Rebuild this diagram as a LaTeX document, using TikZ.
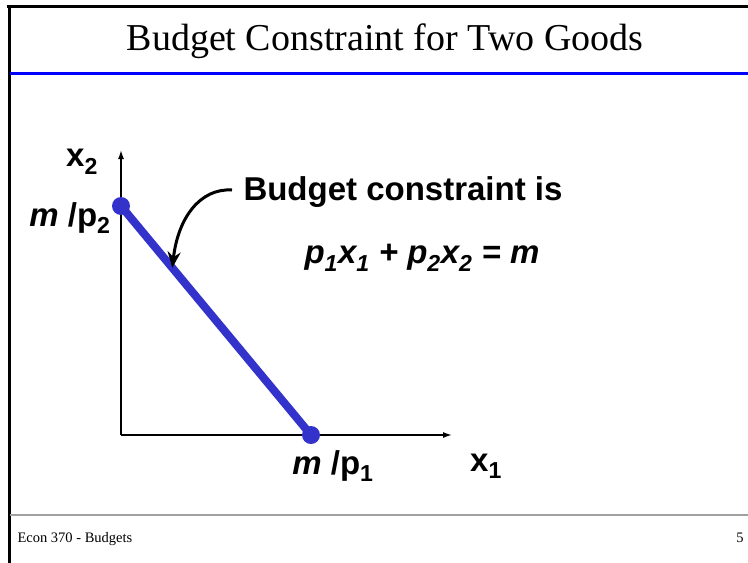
\documentclass[tikz,border=0pt]{standalone}
\usepackage{fontspec}
\usetikzlibrary{arrows.meta,calc}
\newfontfamily\slideserif{Liberation Serif}
\newfontfamily\slidesans{Liberation Sans}
\definecolor{budgetblue}{RGB}{51,51,204}
\definecolor{rulegray}{RGB}{160,160,160}

\tikzset{every picture/.style={line width=1pt}}
\tikzset{
  bigsans/.style={inner sep=0pt,font=\slidesans\bfseries\fontsize{33}{38}\selectfont},
  axisline/.style={line width=1.5,-{Latex[length=9,width=6]}},
  budgetdot/.style={circle,fill=budgetblue,inner sep=0pt,minimum size=18},
}

\begin{document}
\begin{tikzpicture}[x=1pt,y=1pt,yscale=-1,xscale=1]
		\useasboundingbox (0,0) rectangle (748,563);
		
		%Frame
		\draw  [line width=3]  (7,6) -- (748,6) ;
		\draw  [line width=3]  (9,6) -- (9,563) ;
		%Title rule
		\draw  [line width=3, color=blue]  (10,73) -- (748,73) ;
		%Footer rule
		\draw  [line width=2, color=rulegray]  (10,515) -- (748,515) ;
		
		% Title
		\node (title) at (385,50) [anchor=base,inner sep=0pt,font=\slideserif\fontsize{38}{44}\selectfont] {Budget Constraint for Two Goods};
		% Footer
		\node (foot) at (17,542) [anchor=base west,inner sep=0pt,font=\slideserif\fontsize{14.5}{17}\selectfont] {Econ 370 - Budgets};
		\node (page) at (744,542) [anchor=base east,inner sep=0pt,font=\slideserif\fontsize{14.5}{17}\selectfont] {5};
		
		%Axes
		\coordinate (origin) at (121,435);
		\coordinate (ytop) at (121,150);
		\coordinate (xend) at (452,435);
		\draw  [axisline]  (origin) -- (ytop) ;
		\draw  [axisline]  (origin) -- (xend) ;
		
		%Budget line
		\node (ydot) at (121,206) [budgetdot] {};
		\node (xdot) at (311,435) [budgetdot] {};
		\draw  [line width=8, color=budgetblue]  (ydot.center) -- (xdot.center) ;
		
		% Text Node
		\node (xtwo) at (82,162) [bigsans] {x\textsubscript{2}};
		% Text Node
		\node (mptwo) at (70,218) [bigsans] {\textit{m} /p\textsubscript{2}};
		% Text Node
		\node (mpone) at (333,466) [bigsans] {\textit{m} /p\textsubscript{1}};
		% Text Node
		\node (xone) at (486,466) [bigsans] {x\textsubscript{1}};
		% Text Node
		\node (constr) at (243,192) [bigsans,anchor=west] {Budget constraint is};
		% Text Node
		\node (eqn) at (422,258) [bigsans] {\itshape p\textsubscript{1}x\textsubscript{1} + p\textsubscript{2}x\textsubscript{2} = m};
		
		%Curved arrow
		\coordinate (tip) at ($(ydot.center)!0.27!(xdot.center)$);
		\draw  [line width=3,-{Stealth[length=16,width=13]}]  ($(constr.west)+(-11,-2)$) .. controls (200,188) and (178,218) .. (tip) ;
\end{tikzpicture}
\end{document}
